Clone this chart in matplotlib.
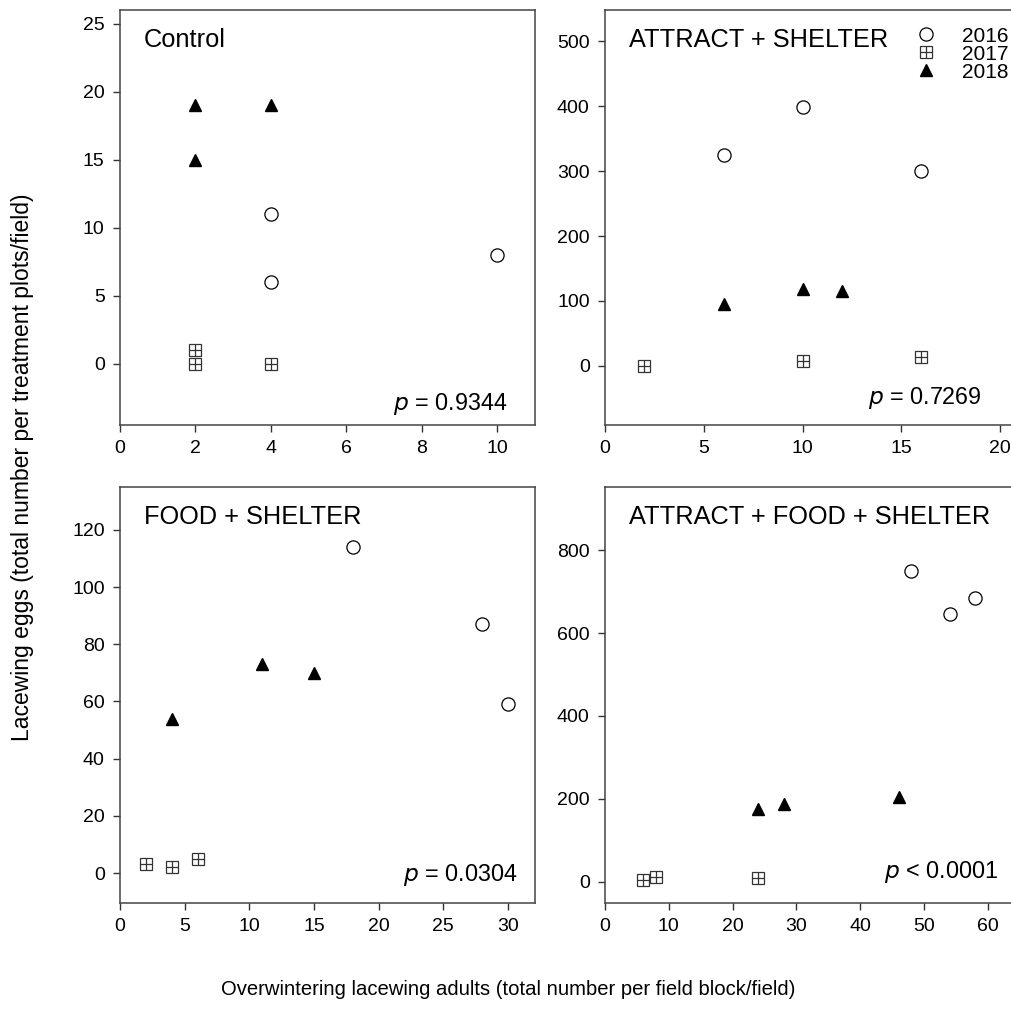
import matplotlib.pyplot as plt
from matplotlib.legend_handler import HandlerTuple

plt.rcParams['font.family'] = ['Liberation Sans', 'DejaVu Sans']

# panel data: x = overwintering adults, y = eggs
titles = ["Control", "ATTRACT + SHELTER", "FOOD + SHELTER", "ATTRACT + FOOD + SHELTER"]
pvals = ["= 0.9344", "= 0.7269", "= 0.0304", "< 0.0001"]

x2016 = [[4, 4, 10], [6, 10, 16], [18, 28, 30], [48, 54, 58]]
y2016 = [[11, 6, 8], [325, 398, 300], [114, 87, 59], [750, 647, 685]]
x2017 = [[2, 2, 4], [2, 10, 16], [2, 4, 6], [6, 8, 24]]
y2017 = [[1, 0, 0], [0, 8, 13], [3, 2, 5], [5, 12, 10]]
x2018 = [[2, 2, 4], [6, 10, 12], [4, 11, 15], [24, 28, 46]]
y2018 = [[19, 15, 19], [95, 118, 116], [54, 73, 70], [175, 188, 205]]

xlims = [(0, 11), (0, 21), (0, 32.1), (0, 65)]
ylims = [(-4.5, 26), (-91, 548), (-10.5, 135), (-51, 952)]
xticks = [range(0, 11, 2), range(0, 21, 5), range(0, 31, 5), range(0, 61, 10)]
yticks = [range(0, 26, 5), range(0, 501, 100), range(0, 121, 20), range(0, 801, 200)]
pos = [[0.1186, 0.5792, 0.410, 0.4109],
       [0.5978, 0.5792, 0.410, 0.4109],
       [0.1186, 0.1059, 0.410, 0.4119],
       [0.5978, 0.1059, 0.410, 0.4119]]
pxy = [(0.933, 0.05), (0.908, 0.065), (0.957, 0.067), (0.947, 0.075)]

fig = plt.figure(figsize=(10.12, 10.10), dpi=100)

for i in range(4):
    ax = fig.add_axes(pos[i])
    c = ax.plot(x2016[i], y2016[i], 'o', ms=9.5, mfc='white', mec='black', mew=0.9, ls='none')[0]
    s = ax.plot(x2017[i], y2017[i], 's', ms=8, mfc='white', mec='#333333', mew=0.9, ls='none')[0]
    sp = ax.plot(x2017[i], y2017[i], '+', ms=8, mec='#333333', mew=0.9, ls='none')[0]
    t = ax.plot(x2018[i], y2018[i], '^', ms=9, mfc='black', mec='black', ls='none')[0]
    ax.set_xlim(xlims[i])
    ax.set_ylim(ylims[i])
    ax.set_xticks(list(xticks[i]))
    ax.set_yticks(list(yticks[i]))
    ax.tick_params(direction='out', length=5, width=1, labelsize=14, pad=6, color='#333333')
    for sp_ in ax.spines.values():
        sp_.set_color('#444444')
        sp_.set_linewidth(1.1)
    ax.text(0.058, 0.927, titles[i], transform=ax.transAxes, ha='left', va='center', fontsize=18.3)
    ax.text(pxy[i][0], pxy[i][1], '$\\it{p}$ ' + pvals[i], transform=ax.transAxes,
            ha='right', va='center', fontsize=16.8)
    if i == 1:
        ax.legend([c, (s, sp), t], ['2016', '2017', '2018'],
                  handler_map={tuple: HandlerTuple(ndivide=1)},
                  loc='upper left', bbox_to_anchor=(0.708, 1.0), frameon=False,
                  fontsize=15, labelspacing=-0.05, handletextpad=1.25,
                  handlelength=1.0, borderaxespad=0.4)

fig.text(0.022, 0.537, 'Lacewing eggs (total number per treatment plots/field)',
         rotation=90, ha='center', va='center', fontsize=16.5)
fig.text(0.502, 0.02, 'Overwintering lacewing adults (total number per field block/field)',
         ha='center', va='center', fontsize=14.6)

fig.savefig('out.png', dpi=100)
